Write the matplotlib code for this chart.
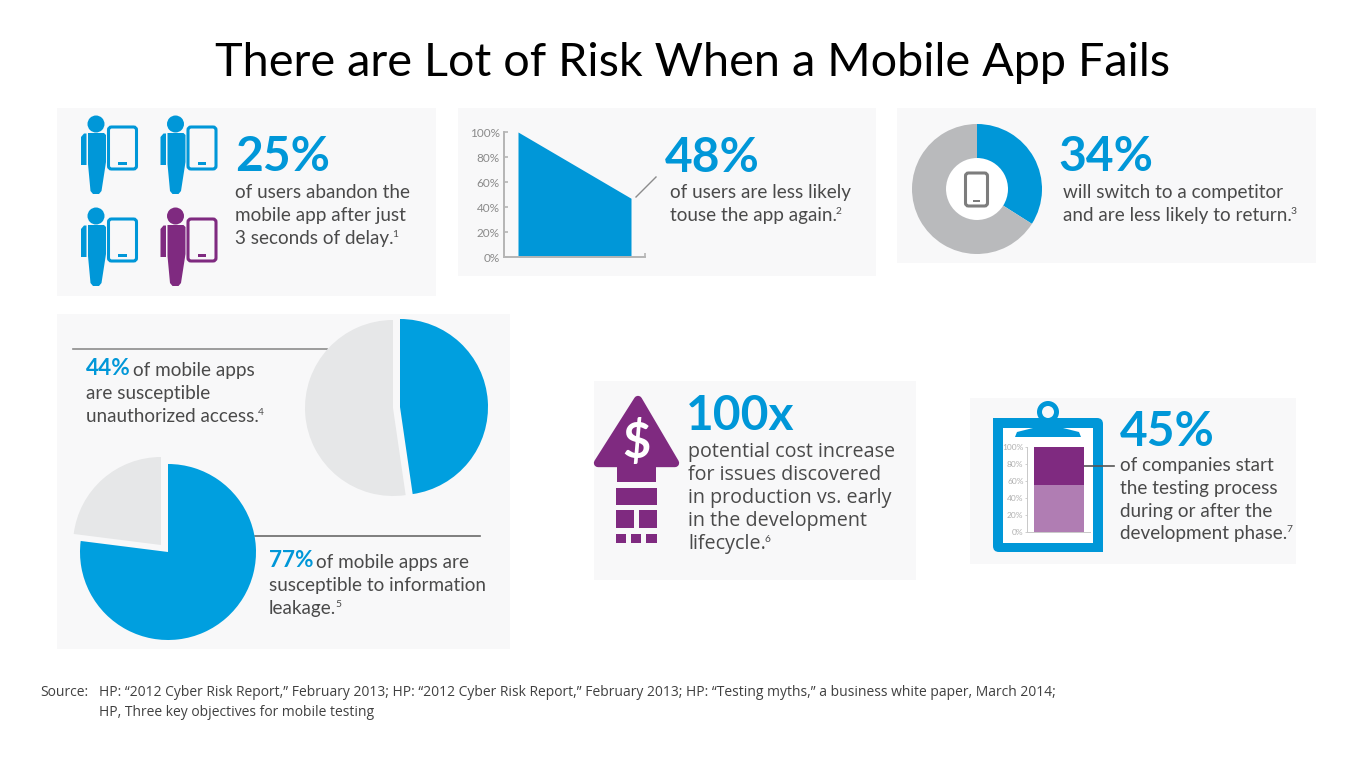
import matplotlib
matplotlib.use("Agg")
import matplotlib.pyplot as plt
from matplotlib.patches import Rectangle, Polygon, Circle, FancyBboxPatch

plt.rcParams['font.family'] = ['Lato', 'DejaVu Sans']

W, H = 1366, 768
BLUE = '#0097d8'
PIE_BLUE = '#009fdf'
PURPLE = '#7f2a80'
LIGHT_PURPLE = '#b07db3'
CARD = '#f8f8f9'
PIE_GREY = '#e6e7e8'
DONUT_GREY = '#b9babc'
TEXT = '#4a4a4a'

title = "There are Lot of Risk When a Mobile App Fails"

# values
area_pct = [100, 47]
area_ticks = [0, 20, 40, 60, 80, 100]
donut_share = [34, 66]
pie_top_share = [47.7, 52.3]
pie_bottom_share = [77, 23]
bar_light = [55]
bar_dark = [45]
bar_ticks = [0, 20, 40, 60, 80, 100]

card_25 = ["of users abandon the", "mobile app after just", "3 seconds of delay."]
card_48 = ["of users are less likely", "touse the app again."]
card_34 = ["will switch to a competitor", "and are less likely to return."]
card_44 = ["of mobile apps", "are susceptible", "unauthorized access."]
card_77 = ["of mobile apps are", "susceptible to information", "leakage."]
card_100 = ["potential cost increase", "for issues discovered", "in production vs. early", "in the development", "lifecycle."]
card_45 = ["of companies start", "the testing process", "during or after the", "development phase."]
source_lines = ["HP: \u201c2012 Cyber Risk Report,\u201d February 2013; HP: \u201c2012 Cyber Risk Report,\u201d February 2013; HP: \u201cTesting myths,\u201d a business white paper, March 2014;",
                "HP, Three key objectives for mobile testing"]

fig = plt.figure(figsize=(W/100, H/100), dpi=100, facecolor='white')
ax = fig.add_axes([0, 0, 1, 1])
ax.set_xlim(0, W)
ax.set_ylim(H, 0)
ax.axis('off')
renderer = fig.canvas.get_renderer()


def inset(x0, y0, x1, y1):
    a = fig.add_axes([x0/W, 1-y1/H, (x1-x0)/W, (y1-y0)/H])
    a.patch.set_visible(False)
    return a


def card(x0, y0, x1, y1):
    ax.add_patch(Rectangle((x0, y0), x1-x0, y1-y0, fc=CARD, ec='none', zorder=0))


def big(x, y, s, size=34.5):
    return ax.text(x, y, s, color=BLUE, fontsize=size, fontweight='bold', va='baseline')


def lines(x, ys, strs, sup=None, size=13.6, **kw):
    t = None
    for y, s in zip(ys, strs):
        t = ax.text(x, y, s, color=TEXT, fontsize=size, va='baseline', **kw)
    if sup:
        bb = t.get_window_extent(renderer)
        ax.text(bb.x1-1, ys[-1]-7, sup, color=TEXT, fontsize=7.4, va='baseline')


def person(cx, cy, color):
    ax.add_patch(Circle((cx, cy), 8.5, fc=color, ec='none'))
    arm = [(-15, 13), (-12, 9.5), (-9.5, 9.5), (-9.5, 41), (-15, 41)]
    torso = [(-8, 9), (8, 9), (10, 11), (10, 38), (5.5, 67), (3, 70), (-3, 70), (-5.5, 67), (-8, 40)]
    ax.add_patch(Polygon([(cx+a, cy+b) for a, b in arm], fc=color, ec='none'))
    ax.add_patch(Polygon([(cx+a, cy+b) for a, b in torso], fc=color, ec='none'))


def phone(x0, y0, w, h, color, lw=2.2):
    ax.add_patch(FancyBboxPatch((x0, y0), w, h, boxstyle='round,pad=0,rounding_size=3', fc='none', ec=color, lw=lw))
    ax.add_patch(Rectangle((x0+w*0.35, y0+h*0.84), w*0.3, 2.5, fc=color, ec='none'))


def pie_part(cx, cy, r, share, colors):
    a = inset(cx-r, cy-r, cx+r, cy+r)
    a.pie(share, colors=colors, startangle=90, counterclock=False, radius=1)
    a.set_xlim(-1, 1)
    a.set_ylim(-1, 1)
    return a


# title
ax.text(693, 76, title, color='black', fontsize=33.65, ha='center', va='baseline')

# cards
card(57, 108, 436, 296)
card(458, 108, 876, 276)
card(897, 108, 1316, 263)
card(57, 314, 510, 649)
card(594, 381, 916, 580)
card(970, 398, 1296, 564)

# 25% card
for i, (px, py) in enumerate([(96, 124), (175.5, 124), (96, 216), (175.5, 216)]):
    col = PURPLE if i == 3 else BLUE
    person(px, py, col)
    phone(px+12.5, py+3, 28, 42, col)
big(235, 171, "25%")
lines(235, [198, 221, 244], card_25, "1")

# 48% card, small area chart
a = inset(504, 132, 645, 257)
a.fill_between([0, 1], area_pct, [0, 0], color=BLUE, lw=0)
a.set_xlim(-14/113, 1+14/113)
a.set_ylim(0, 100)
a.set_yticks(area_ticks)
a.set_yticklabels([f"{v}%" for v in area_ticks], color='#8a8a8a', fontsize=8.5)
a.set_xticks([1+14/113])
a.set_xticklabels([''])
a.tick_params(direction='in', length=3, color='#b5b5b5', width=1.2, pad=3)
for sp in ['top', 'right']:
    a.spines[sp].set_visible(False)
for sp in ['left', 'bottom']:
    a.spines[sp].set_color('#b5b5b5')
    a.spines[sp].set_linewidth(1.4)
ax.plot([636, 656], [197, 177], color='#8c8c8c', lw=1)
big(665, 172, "48%")
lines(670, [198, 221], card_48, "2")

# 34% card, donut
d = inset(977-65, 189-65, 977+65, 189+65)
d.pie(donut_share, colors=[BLUE, DONUT_GREY], startangle=90, counterclock=False, radius=1,
      wedgeprops=dict(width=34/65))
d.set_xlim(-1, 1)
d.set_ylim(-1, 1)
ax.add_patch(Circle((977, 189), 31, fc='white', ec='none', zorder=1))
ax.add_patch(FancyBboxPatch((965.5, 173), 22, 33, boxstyle='round,pad=0,rounding_size=3', fc='none', ec='#7d7d7d', lw=2.2, zorder=5))
ax.add_patch(Rectangle((973, 200), 7, 1.8, fc='#7d7d7d', ec='none', zorder=5))
big(1058, 171, "34%")
lines(1063, [198, 221], card_34, "3")

# 44% / 77% card, pies
pie_part(393, 408, 88, pie_top_share, ['none', PIE_GREY])
pie_part(400, 407, 88, pie_top_share, [PIE_BLUE, 'none'])
pie_part(161, 545, 88, pie_bottom_share, ['none', PIE_GREY])
pie_part(168, 552, 88, pie_bottom_share, [PIE_BLUE, 'none'])
ax.plot([73, 327], [349, 349], color='#8c8c8c', lw=1.2)
ax.plot([255, 480], [536, 536], color='#6a6a6a', lw=1.2)
big(86, 375, "44%", size=16.3)
lines(133, [376], card_44[:1])
lines(86, [399, 422], card_44[1:], "4")
big(269, 567, "77%", size=16.3)
lines(316, [568], card_77[:1])
lines(269, [591, 614], card_77[1:], "5")

# 100x card, arrow and bricks
ax.add_patch(Polygon([(638, 400), (598, 463), (675, 463)], fc=PURPLE, ec=PURPLE, lw=6, joinstyle='round'))
ax.add_patch(Rectangle((617, 462), 39, 20, fc=PURPLE, ec='none'))
ax.add_patch(Rectangle((616, 488), 41, 17, fc=PURPLE, ec='none'))
for bx, bw in [(616, 18), (639, 18)]:
    ax.add_patch(Rectangle((bx, 510), bw, 18, fc=PURPLE, ec='none'))
for bx, bw in [(616, 10), (631, 10), (646, 11)]:
    ax.add_patch(Rectangle((bx, 534), bw, 9, fc=PURPLE, ec='none'))
ax.text(636, 458, "$", color='white', fontsize=35, fontweight='bold', ha='center', va='baseline', zorder=6)
big(686, 430, "100x")
t = None
for y, s in zip([457, 480, 503, 526, 549], card_100):
    t = ax.text(688, y, s, color=TEXT, fontsize=14.25, family=['Open Sans', 'DejaVu Sans'], va='baseline')
bb = t.get_window_extent(renderer)
ax.text(bb.x1-1, 542, "6", color=TEXT, fontsize=7.4, va='baseline')

# 45% card, clipboard with stacked bar
ax.add_patch(FancyBboxPatch((993, 418), 110, 134, boxstyle='round,pad=0,rounding_size=6', fc=BLUE, ec='none'))
ax.add_patch(Rectangle((993, 418), 10, 10, fc=BLUE, ec='none'))
ax.add_patch(Rectangle((1093, 542), 10, 10, fc=BLUE, ec='none'))
ax.add_patch(Rectangle((1003, 428), 90, 115, fc='white', ec='none'))
ax.add_patch(Circle((1048, 412), 11, fc=BLUE, ec='none'))
ax.add_patch(Circle((1048, 412), 6, fc=CARD, ec='none', zorder=3))
ax.add_patch(Polygon([(1015, 437), (1017, 432), (1037, 427), (1059, 427), (1079, 432), (1081, 437)], fc=BLUE, ec='none'))
b = inset(1027, 447, 1090, 532)
b.bar([0], bar_light, width=50, color=LIGHT_PURPLE)
b.bar([0], bar_dark, bottom=bar_light, width=50, color=PURPLE)
b.set_xlim(-32, 31)
b.set_ylim(0, 100)
b.set_yticks(bar_ticks)
b.set_yticklabels([f"{v}%" for v in bar_ticks], color='#b0b0b0', fontsize=6)
b.set_xticks([])
b.tick_params(direction='out', length=1.5, color='#c8c8c8', width=0.6, pad=1)
for sp in ['top', 'right']:
    b.spines[sp].set_visible(False)
for sp in ['left', 'bottom']:
    b.spines[sp].set_color('#c8c8c8')
    b.spines[sp].set_linewidth(0.7)
ax.plot([1084, 1114], [466, 466], color='#555555', lw=1.2)
big(1120, 446, "45%")
lines(1120, [471, 494, 517, 539], card_45, "7")

# source note
src_font = ['Open Sans', 'DejaVu Sans']
ax.text(40, 696, "Source:", color='#404040', fontsize=9.98, family=src_font, va='baseline')
ax.text(99, 696, source_lines[0], color='#404040', fontsize=9.98, family=src_font, va='baseline')
ax.text(99, 716, source_lines[1], color='#404040', fontsize=9.98, family=src_font, va='baseline')

fig.savefig('out.png', dpi=100)
